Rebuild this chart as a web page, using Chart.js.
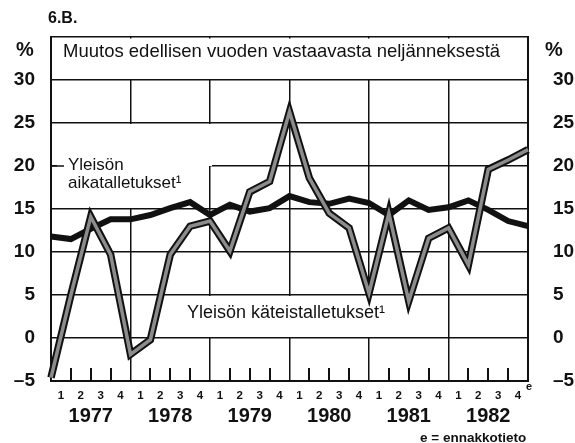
<!DOCTYPE html>
<html>
<head>
<meta charset="utf-8">
<script src="https://cdn.jsdelivr.net/npm/chart.js@4"></script>
<style>
  html, body { margin:0; padding:0; background:#fff; }
  #wrap { width:575px; height:443px; }
</style>
</head>
<body>
<div id="wrap"><canvas id="kaavio" width="575" height="443"></canvas></div>
<script>
const vuodet       = ['1977', '1978', '1979', '1980', '1981', '1982'];
const neljannekset = ['1', '2', '3', '4'];
const kateistalletukset = [-4.6, 5.0, 14.1, 9.7, -1.9, -0.2, 9.7, 13.0, 13.6, 10.1, 17.0, 18.2, 26.3,
                           18.6, 14.5, 12.8, 5.2, 14.5, 4.3, 11.6, 12.8, 8.5, 19.6, 20.7, 21.9];
const aikatalletukset   = [11.8, 11.5, 12.7, 13.8, 13.8, 14.3, 15.1, 15.8, 14.3, 15.5, 14.7, 15.1, 16.5,
                           15.8, 15.6, 16.2, 15.7, 14.3, 16.0, 14.9, 15.2, 16.0, 14.9, 13.6, 13.0];

const FONT  = "'Liberation Sans', Arial, sans-serif";
const musta = '#111';

const neljLabels = vuodet.flatMap(() => neljannekset);
const pisteet = (arr) => arr.map((v, i) => ({ x: i, y: v }));
const miinus = (v) => v < 0 ? '\u2013' + Math.abs(v) : String(v);

// otsikkolaatikko ja selitteet
const koriste = {
  id: 'koriste',
  beforeDatasetsDraw(chart) {
    const { ctx, chartArea: a, scales } = chart;
    const y = scales.y;
    const y30 = y.getPixelForValue(30);
    ctx.save();
    ctx.fillStyle = '#fff';
    ctx.fillRect(a.left + 1.5, a.top + 1.5, a.right - a.left - 3, y30 - a.top - 2.5);
    // selitteiden taustat
    ctx.fillRect(57, y.getPixelForValue(25) + 1, 155, y.getPixelForValue(20) - y.getPixelForValue(25) - 1);
    ctx.fillRect(57, y.getPixelForValue(20) - 1, 152, y.getPixelForValue(15) - y.getPixelForValue(20));
    ctx.fillRect(183, y.getPixelForValue(5) + 1, 217, y.getPixelForValue(0) - y.getPixelForValue(5) - 2);

    ctx.fillStyle = musta;
    ctx.strokeStyle = musta;
    ctx.lineWidth = 1.5;
    ctx.textBaseline = 'alphabetic';
    ctx.textAlign = 'left';
    ctx.font = `18.5px ${FONT}`;
    ctx.fillText('Muutos edellisen vuoden vastaavasta neljänneksestä', 63, 57);

    ctx.font = `17px ${FONT}`;
    ctx.fillText('Yleisön', 68, 170);
    ctx.fillText('aikatalletukset\u00b9', 68, 188);
    ctx.font = `18px ${FONT}`;
    ctx.fillText('Yleisön käteistalletukset\u00b9', 187, 318);

    // pieni viiva selitteeseen
    ctx.beginPath();
    ctx.moveTo(a.left, y.getPixelForValue(20));
    ctx.lineTo(64, y.getPixelForValue(20));
    ctx.stroke();
    ctx.restore();
  },
  afterDraw(chart) {
    const { ctx, chartArea: a, scales } = chart;
    const ala = scales.y.getPixelForValue(-5);
    const pts = chart.getDatasetMeta(2).data;
    ctx.save();
    // neljännesmerkit datapisteiden kohdalle
    ctx.fillStyle = musta;
    pts.forEach((p, i) => {
      if (i % 4 === 0) return;
      ctx.fillRect(Math.round(p.x) - 1, ala - 13, 2, 13);
    });

    ctx.textAlign = 'left';
    ctx.textBaseline = 'alphabetic';
    ctx.font = `bold 16px ${FONT}`;
    ctx.fillText('6.B.', 48, 23);
    ctx.font = `bold 20px ${FONT}`;
    ctx.fillText('%', 16, 56);
    ctx.fillText('%', 545, 56);
    ctx.font = `bold 11px ${FONT}`;
    ctx.fillText('e', a.right - 2, 390);
    ctx.font = `bold 13.5px ${FONT}`;
    ctx.fillText('e = ennakkotieto', 420, 442);
    ctx.restore();
  }
};

new Chart(document.getElementById('kaavio'), {
  type: 'line',
  data: {
    datasets: [
      {
        data: pisteet(kateistalletukset),
        borderColor: '#8c8c8c', borderWidth: 3.5,
        pointRadius: 0, tension: 0, borderJoinStyle: 'miter', clip: false, order: 0
      },
      {
        data: pisteet(kateistalletukset),
        borderColor: musta, borderWidth: 7.5,
        pointRadius: 0, tension: 0, borderJoinStyle: 'miter', clip: false, order: 1
      },
      {
        data: pisteet(aikatalletukset),
        borderColor: musta, borderWidth: 6,
        pointRadius: 0, tension: 0, borderJoinStyle: 'miter', clip: false, order: 2
      }
    ]
  },
  options: {
    responsive: false,
    animation: false,
    devicePixelRatio: 1,
    layout: { padding: { top: 37, bottom: 12, left: 0, right: 0 } },
    plugins: { legend: { display: false }, tooltip: { enabled: false } },
    scales: {
      x: { type: 'linear', display: false, min: 0, max: 24 },
      xQ: {
        type: 'category', position: 'bottom', weight: 1,
        labels: neljLabels, offset: true,
        grid: { display: false },
        border: { display: true, color: musta, width: 2 },
        ticks: { autoSkip: false, maxRotation: 0, padding: 0, color: musta, font: { family: FONT, size: 11.5, weight: 'bold' } },
        afterFit: (s) => { s.height = 20; }
      },
      xV: {
        type: 'category', position: 'bottom', weight: 2,
        labels: vuodet, offset: true,
        grid: { display: true, offset: true, drawTicks: false, color: musta, lineWidth: 1.5 },
        border: { display: false },
        ticks: { autoSkip: false, maxRotation: 0, padding: 3, color: musta, font: { family: FONT, size: 20, weight: 'bold' } },
        afterFit: (s) => { s.height = 30; }
      },
      y: {
        position: 'left', min: -5, max: 35,
        grid: { color: musta, lineWidth: 1.5, drawTicks: false },
        border: { display: true, color: musta, width: 2 },
        ticks: { stepSize: 5, padding: 16, color: musta, font: { family: FONT, size: 19, weight: 'bold' },
                 callback: (v) => v === 35 ? '' : miinus(v) },
        afterFit: (s) => { s.width = 51; }
      },
      y2: {
        position: 'right', min: -5, max: 35,
        grid: { display: false },
        border: { display: true, color: musta, width: 2 },
        ticks: { stepSize: 5, padding: 17, color: musta, font: { family: FONT, size: 19, weight: 'bold' },
                 callback: (v) => v === 35 ? '' : miinus(v) },
        afterFit: (s) => { s.width = 47; }
      }
    }
  },
  plugins: [koriste]
});
</script>
</body>
</html>
